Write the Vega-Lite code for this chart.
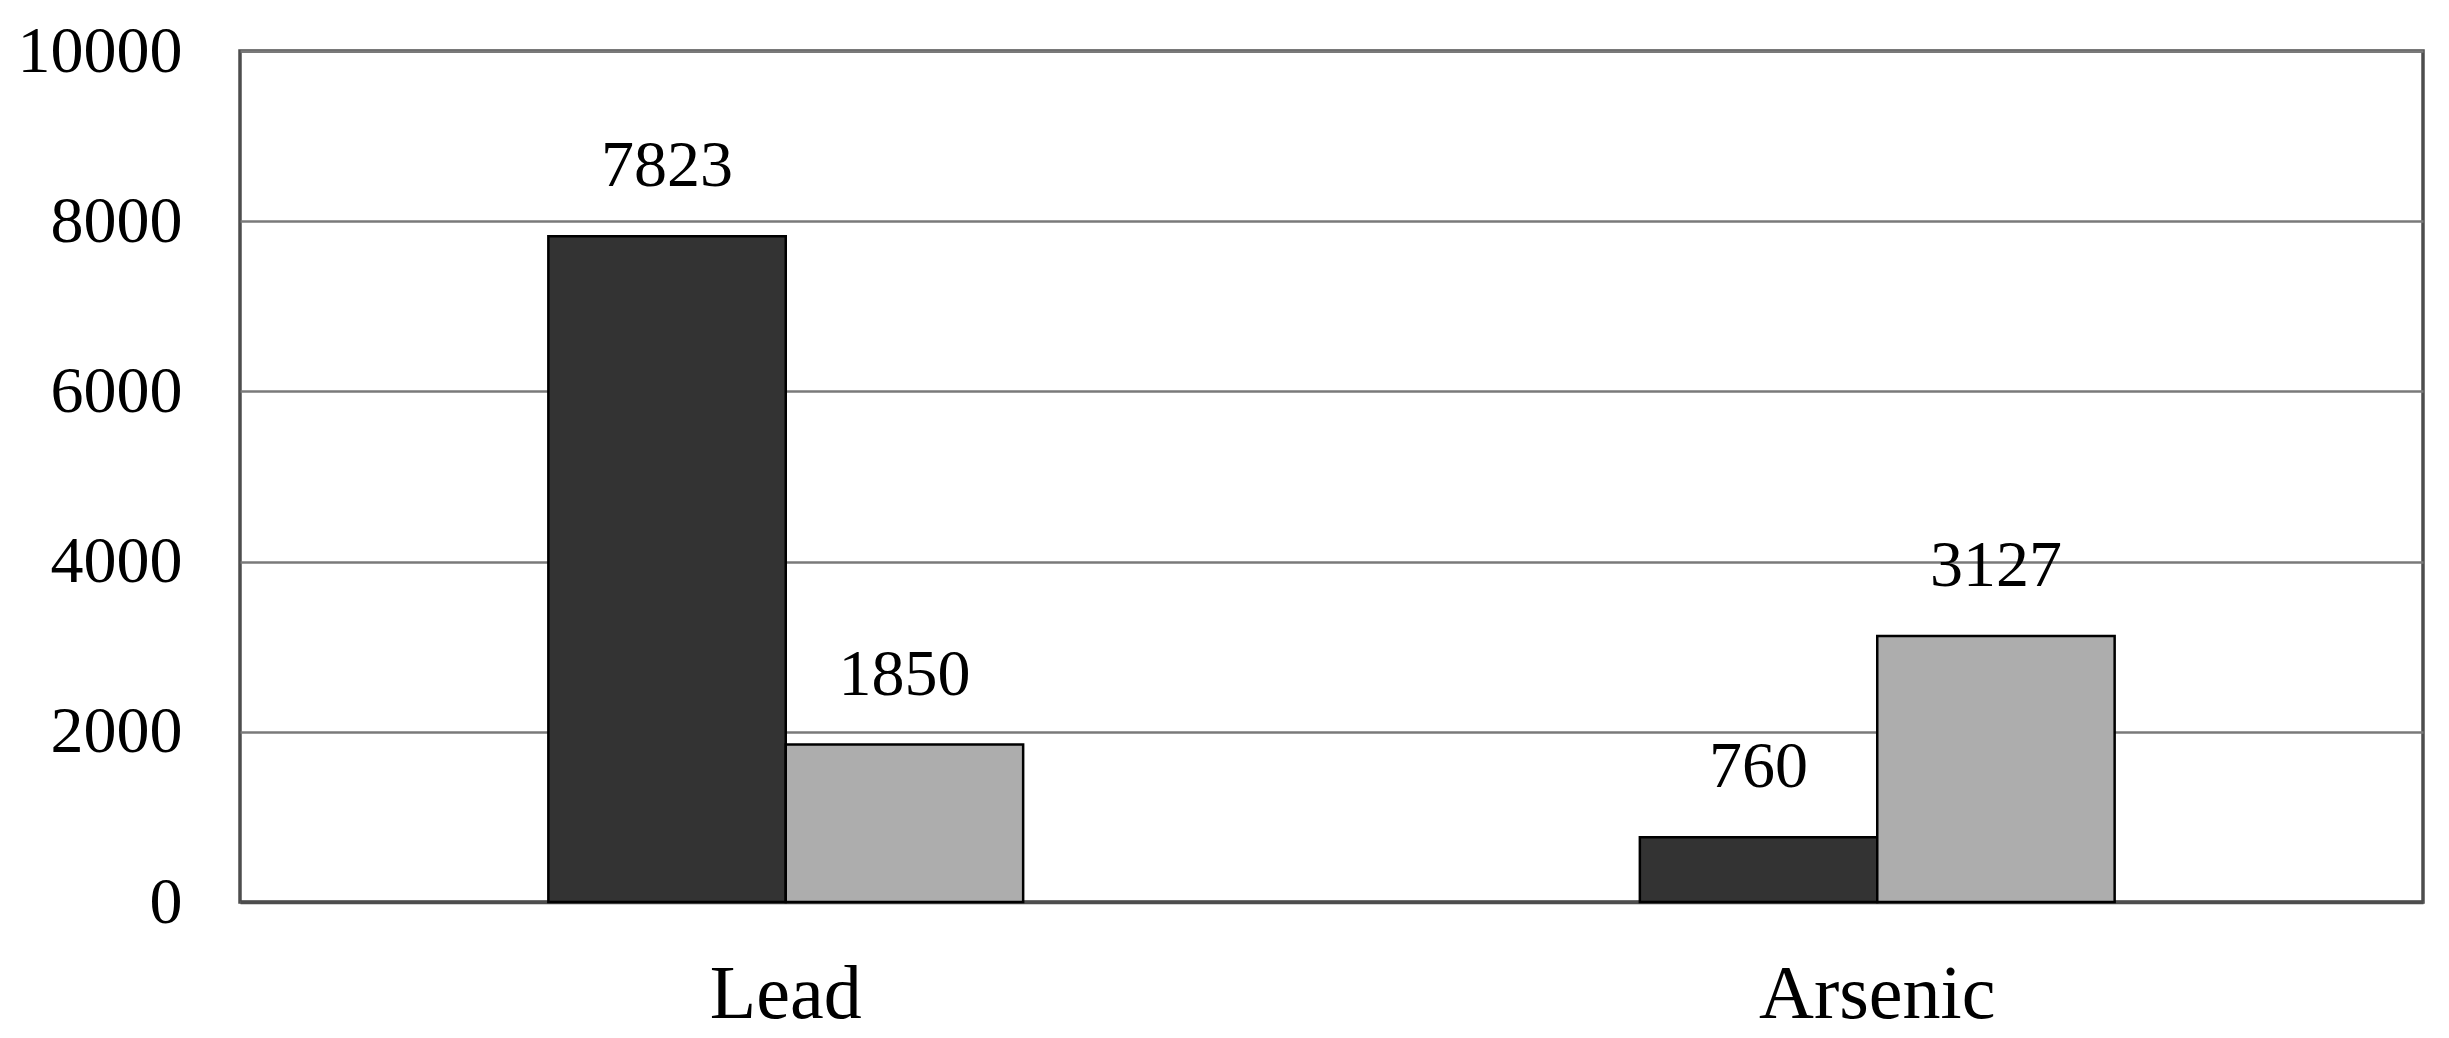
{
  "$schema": "https://vega.github.io/schema/vega-lite/v6.json",
  "width": 2183,
  "height": 851,
  "autosize": {"type": "none"},
  "padding": {"left": 240, "top": 51, "right": 26, "bottom": 136},
  "background": "white",
  "config": {
    "view": {"stroke": "#4d4d4d", "strokeWidth": 3.5},
    "font": "Liberation Serif"
  },
  "data": {
    "values": [
      {"element": "Lead", "series": "Series 1", "value": 7823},
      {"element": "Lead", "series": "Series 2", "value": 1850},
      {"element": "Arsenic", "series": "Series 1", "value": 760},
      {"element": "Arsenic", "series": "Series 2", "value": 3127}
    ]
  },
  "encoding": {
    "x": {
      "field": "element",
      "type": "nominal",
      "sort": ["Lead", "Arsenic"],
      "scale": {"paddingInner": 0.565, "paddingOuter": 0.2825},
      "axis": {
        "title": null,
        "labelAngle": 0,
        "labelLimit": 0,
        "labelFont": "Liberation Serif",
        "labelFontSize": 76,
        "labelColor": "black",
        "labelBaseline": "alphabetic",
        "labelPadding": 115,
        "ticks": false,
        "tickSize": 0,
        "domainColor": "#4d4d4d",
        "domainWidth": 3.5
      }
    },
    "xOffset": {
      "field": "series",
      "type": "nominal",
      "sort": ["Series 1", "Series 2"],
      "scale": {"paddingInner": 0, "paddingOuter": 0}
    },
    "y": {
      "field": "value",
      "type": "quantitative",
      "scale": {"domain": [0, 10000], "nice": false},
      "axis": {
        "title": null,
        "values": [0, 2000, 4000, 6000, 8000, 10000],
        "format": "d",
        "labelFont": "Liberation Serif",
        "labelFontSize": 66,
        "labelColor": "black",
        "labelPadding": 58,
        "labelLimit": 0,
        "ticks": false,
        "tickSize": 0,
        "domain": false,
        "grid": true,
        "gridColor": "#7a7a7a",
        "gridWidth": 2.5,
        "gridOpacity": 1
      }
    }
  },
  "layer": [
    {
      "mark": {"type": "bar", "stroke": "black", "strokeWidth": 2.5},
      "encoding": {
        "fill": {
          "field": "series",
          "type": "nominal",
          "scale": {"domain": ["Series 1", "Series 2"], "range": ["#333333", "#adadad"]},
          "legend": null
        }
      }
    },
    {
      "mark": {
        "type": "text",
        "baseline": "alphabetic",
        "dy": -50,
        "fontSize": 66,
        "font": "Liberation Serif",
        "color": "black"
      },
      "encoding": {
        "text": {"field": "value", "type": "quantitative", "format": "d"}
      }
    }
  ]
}
